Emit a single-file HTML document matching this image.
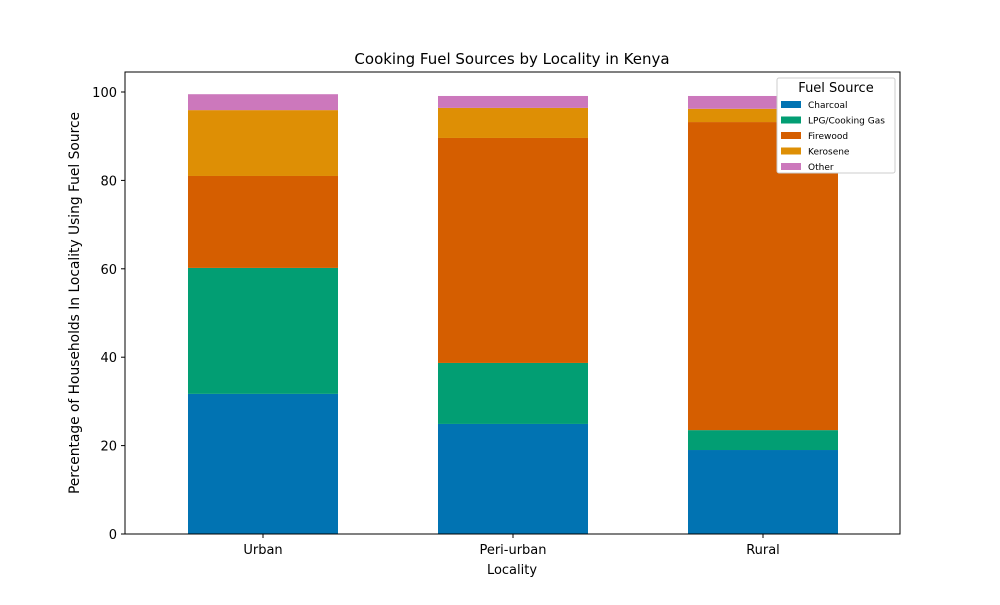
<!DOCTYPE html>
<html><head><meta charset="utf-8"><style>
body{margin:0;background:#fff;font-family:"Liberation Sans","DejaVu Sans",sans-serif}
</style></head><body>
<svg id="chart" width="1000" height="600" font-family="DejaVu Sans, Liberation Sans, sans-serif"></svg>
<script>
const categories=["Urban","Peri-urban","Rural"];
const seriesNames=["Charcoal","LPG/Cooking Gas","Firewood","Kerosene","Other"];
const charcoal=[31.7,24.9,19.0];
const lpg=[28.5,13.8,4.5];
const firewood=[20.8,50.9,69.7];
const kerosene=[14.9,6.8,3.0];
const other=[3.6,2.7,2.9];
const yTicks=[0,20,40,60,80,100];
const colors=["#0173b2","#029e73","#d55e00","#de8f05","#cc78bc"];
const series=[charcoal,lpg,firewood,kerosene,other];
const NS="http://www.w3.org/2000/svg";
const svg=document.getElementById("chart");
const L=125,R=900,T=72,B=534;
const y=v=>B-v*4.42;
const x=i=>263+i*250;
function mk(t,a,p){const e=document.createElementNS(NS,t);for(const k in a)e.setAttribute(k,a[k]);(p||svg).appendChild(e);return e;}
categories.forEach((c,i)=>{let base=0;series.forEach((s,j)=>{
 const r=mk("rect",{x:x(i)-75,y:y(base+s[i]),width:150,height:y(base)-y(base+s[i]),fill:colors[j]});
 
 
 base+=s[i];});});
const ax=mk("rect",{x:L,y:T,width:R-L,height:B-T,fill:"none",stroke:"#000","stroke-width":1});

yTicks.forEach(v=>{mk("line",{x1:L-4,x2:L,y1:y(v),y2:y(v),stroke:"#000"});
 const t=mk("text",{x:L-8,y:y(v)+5,"text-anchor":"end","font-size":13});t.textContent=v;
 });
categories.forEach((c,i)=>{mk("line",{x1:x(i),x2:x(i),y1:B,y2:B+4,stroke:"#000"});
 const t=mk("text",{x:x(i),y:B+20,"text-anchor":"middle","font-size":13});t.textContent=c;
 });
let t=mk("text",{x:512,y:64,"text-anchor":"middle","font-size":15});t.textContent="Cooking Fuel Sources by Locality in Kenya";

t=mk("text",{x:512,y:574,"text-anchor":"middle","font-size":13});t.textContent="Locality";

t=mk("text",{x:79,y:303,"text-anchor":"middle","font-size":13.8,transform:"rotate(-90 79 303)"});t.textContent="Percentage of Households In Locality Using Fuel Source";

const lg=mk("g",{});
mk("rect",{x:777,y:78,width:118,height:95,fill:"#fff",stroke:"#ccc",rx:2},lg);
t=mk("text",{x:836,y:92,"text-anchor":"middle","font-size":13},lg);t.textContent="Fuel Source";
seriesNames.forEach((n,j)=>{const g=mk("g",{},lg);
 mk("rect",{x:781,y:101+j*15.5,width:20,height:7,fill:colors[j]},g);
 const tt=mk("text",{x:808,y:108+j*15.5,"font-size":9},g);tt.textContent=n;});
</script></body></html>
